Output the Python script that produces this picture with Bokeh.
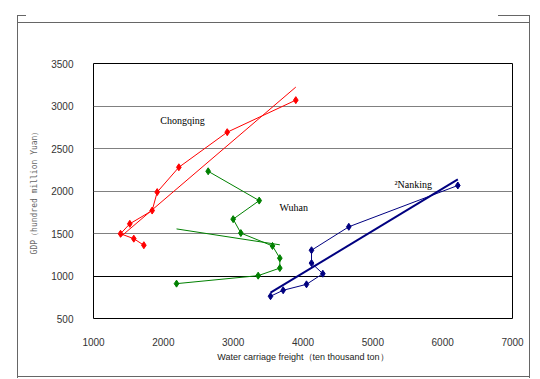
import numpy as np
from bokeh.plotting import figure
from bokeh.models import Range1d, FixedTicker, Grid, Label
from bokeh.embed import file_html
from bokeh.resources import INLINE

# Chongqing (red), in time order
cq_x = [1721, 1577, 1387, 1520, 1840, 1912, 2222, 2915, 3897]
cq_y = [1362, 1439, 1497, 1614, 1770, 1987, 2279, 2692, 3069]
# Wuhan (green)
wh_x = [2189, 3358, 3668, 3668, 3563, 3110, 3000, 3373, 2642]
wh_y = [910, 1004, 1093, 1210, 1354, 1505, 1669, 1887, 2232]
# Nanking (blue)
nj_x = [3535, 3716, 4050, 4284, 4122, 4122, 4656, 6217]
nj_y = [762, 832, 902, 1027, 1152, 1303, 1579, 2065]

x_ticks = [1000, 2000, 3000, 4000, 5000, 6000, 7000]
y_ticks = [500, 1000, 1500, 2000, 2500, 3000, 3500]
grey_grid = [1500, 2000, 2500, 3000]
black_grid = [1000]

p = figure(width=540, height=379,
           x_range=Range1d(1000, 7000), y_range=Range1d(500, 3500),
           output_backend="svg", toolbar_location=None,
           min_border_left=93, min_border_right=28,
           min_border_top=63, min_border_bottom=61,
           background_fill_color="white", border_fill_alpha=0)

# decorative outer page frame drawn with CSS lines
c = "linear-gradient(#666,#666)"
p.styles = {
    "background-color": "white",
    "background-image": ", ".join([c] * 6),
    "background-position": "17px 15px, 529px 15px, 17px 22px, 17px 376px, 17px 15px, 498px 15px",
    "background-size": "1px 363px, 1px 363px, 513px 1px, 513px 1px, 9px 1px, 32px 1px",
    "background-repeat": "no-repeat",
}

p.outline_line_color = "black"
p.outline_line_width = 1

p.xaxis.ticker = FixedTicker(ticks=x_ticks)
p.yaxis.ticker = FixedTicker(ticks=y_ticks)
for ax in (p.xaxis, p.yaxis):
    ax.axis_line_color = None
    ax.major_tick_line_color = None
    ax.minor_tick_line_color = None
    ax.major_tick_out = 0
    ax.major_tick_in = 0
    ax.major_label_text_font = "Liberation Sans"
    ax.major_label_text_font_size = "10px"
    ax.major_label_text_color = "#333333"

p.xaxis.major_label_standoff = 19
p.yaxis.major_label_standoff = 20

p.xaxis.axis_label = "Water carriage freight（ten thousand ton）"
p.xaxis.axis_label_text_font = "Liberation Sans"
p.xaxis.axis_label_text_font_size = "9px"
p.xaxis.axis_label_text_font_style = "normal"
p.xaxis.axis_label_text_color = "#222222"
p.xaxis.axis_label_standoff = 3

p.yaxis.axis_label = "GDP（hundred million Yuan）"
p.yaxis.axis_label_text_font = "DejaVu Sans Mono"
p.yaxis.axis_label_text_font_size = "8px"
p.yaxis.axis_label_text_font_style = "normal"
p.yaxis.axis_label_text_color = "#666666"
p.yaxis.axis_label_standoff = 9

p.xgrid.visible = False
p.ygrid.ticker = FixedTicker(ticks=grey_grid)
p.ygrid.grid_line_color = "#808080"
p.ygrid.grid_line_width = 1
g2 = Grid(dimension=1, ticker=FixedTicker(ticks=black_grid),
          grid_line_color="black", grid_line_width=1)
p.add_layout(g2)

series = [
    (cq_x, cq_y, "#FF0000", 1),
    (wh_x, wh_y, "#008000", 1),
    (nj_x, nj_y, "#000080", 2),
]
for xs, ys, col, tw in series:
    xa = np.array(xs, dtype=float)
    ya = np.array(ys, dtype=float)
    k, b = np.polyfit(xa, ya, 1)
    tx = np.array([xa.min(), xa.max()])
    p.line(tx, k * tx + b, line_color=col, line_width=tw)
    p.line(xs, ys, line_color=col, line_width=1)
    p.scatter(xs, ys, marker="diamond", size=7, fill_color=col, line_color=col)

for txt, lx, ly, al in [("Chongqing", 2275, 2824, "center"),
                        ("Wuhan", 3664, 1809, "left"),
                        ("²Nanking", 5310, 2077, "left")]:
    p.add_layout(Label(x=lx, y=ly, text=txt, text_align=al, text_baseline="middle",
                       text_font="Liberation Serif", text_font_size="10px",
                       text_color="black"))

open("out.html", "w").write(file_html(p, INLINE))
